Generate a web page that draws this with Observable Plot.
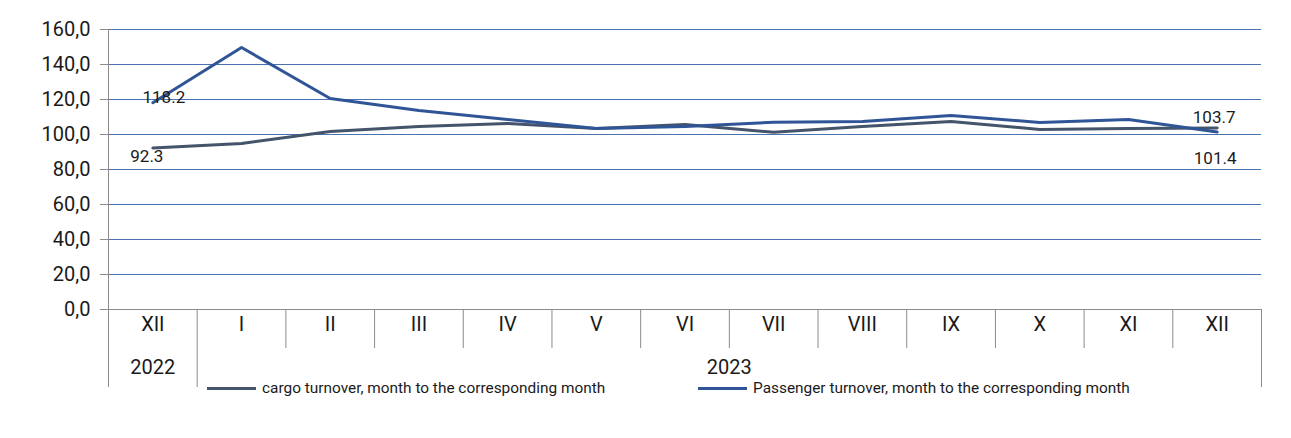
<!DOCTYPE html>
<html>
<head>
<meta charset="utf-8">
<script src="https://cdn.jsdelivr.net/npm/d3@7"></script>
<script src="https://cdn.jsdelivr.net/npm/@observablehq/plot@0.6"></script>
<style>
  html, body { margin: 0; padding: 0; background: #fff; }
  #wrap { position: relative; width: 1291px; height: 438px; font-family: Roboto, sans-serif; }
  .leg { position: absolute; display: flex; align-items: center; font-size: 15.4px; color: #1a1a1a; white-space: nowrap; }
  .leg .sw { width: 49px; height: 3px; margin-right: 6px; }
</style>
</head>
<body>
<div id="wrap"></div>
<script>
const months = ["XII","I","II","III","IV","V","VI","VII","VIII","IX","X","XI","XII"];
const years = ["2022","2023"];
const yearStart = [0, 1];
const yearEnd = [0, 12];
const cargo = [92.3, 94.9, 101.7, 104.6, 106.3, 103.4, 105.7, 101.3, 104.6, 107.4, 102.9, 103.4, 103.7];
const passenger = [118.2, 149.7, 120.6, 113.7, 108.6, 103.4, 104.6, 107.0, 107.4, 110.9, 106.9, 108.6, 101.4];
const yTicks = [0, 20, 40, 60, 80, 100, 120, 140, 160];
const seriesNames = ["cargo turnover, month to the corresponding month", "Passenger turnover, month to the corresponding month"];
const colors = ["#44546a", "#2f5597"];

const idx = months.map((_, i) => i);
const cargoData = idx.map(i => ({i, v: cargo[i]}));
const passData = idx.map(i => ({i, v: passenger[i]}));
const inner = d3.range(1, months.length - 1).map(i => i + 0.5);
const outer = [0.5, months.length - 0.5];
const groups = years.map((y, k) => ({label: y, x: (yearStart[k] + yearEnd[k]) / 2}));
const last = months.length - 1;

const gray = "#8c8c8c";
const font = "Roboto, sans-serif";

const chart = Plot.plot({
  width: 1291,
  height: 438,
  marginLeft: 108,
  marginRight: 30,
  marginTop: 29,
  marginBottom: 129,
  style: {fontFamily: font, color: "#1a1a1a", background: "#fff"},
  x: {type: "linear", domain: [-0.5, months.length - 0.5], axis: null},
  y: {domain: [0, 160], axis: null},
  marks: [
    Plot.gridY(yTicks.filter(t => t > 0), {stroke: "#4a72b0", strokeOpacity: 1, strokeWidth: 1}),
    Plot.ruleY([0], {stroke: gray, strokeWidth: 1}),
    Plot.axisY({ticks: yTicks, label: null, tickFormat: d => d.toFixed(1).replace(".", ","), tickSize: 8, tickPadding: 10, fontSize: 20, stroke: gray, fill: "#1a1a1a"}),
    Plot.ruleX([-0.5], {stroke: gray, strokeWidth: 1, insetBottom: -78}),
    Plot.ruleX(inner, {stroke: gray, strokeWidth: 1, insetTop: 280, insetBottom: -39}),
    Plot.ruleX(outer, {stroke: gray, strokeWidth: 1, insetTop: 280, insetBottom: -78}),
    Plot.text(months, {x: (d, i) => i, text: d => d, frameAnchor: "bottom", dy: 21, fontSize: 20, fill: "#1a1a1a"}),
    Plot.text(groups, {x: "x", text: "label", frameAnchor: "bottom", dy: 64, fontSize: 20, fill: "#1a1a1a"}),
    Plot.line(cargoData, {x: "i", y: "v", stroke: colors[0], strokeWidth: 3}),
    Plot.line(passData, {x: "i", y: "v", stroke: colors[1], strokeWidth: 3}),
    Plot.text([passData[0]], {x: "i", y: "v", text: d => d.v.toFixed(1), dx: 11, dy: -5, fontSize: 17, fill: "#1a1a1a"}),
    Plot.text([cargoData[0]], {x: "i", y: "v", text: d => d.v.toFixed(1), dx: -6, dy: 9, fontSize: 17, fill: "#1a1a1a"}),
    Plot.text([cargoData[last]], {x: "i", y: "v", text: d => d.v.toFixed(1), dx: -3, dy: -10, fontSize: 17, fill: "#1a1a1a"}),
    Plot.text([passData[last]], {x: "i", y: "v", text: d => d.v.toFixed(1), dx: -2, dy: 26, fontSize: 17, fill: "#1a1a1a"})
  ]
});
const wrap = document.getElementById("wrap");
wrap.appendChild(chart);

const legPos = [{left: 207, top: 380}, {left: 698, top: 380}];
seriesNames.forEach((name, k) => {
  const d = document.createElement("div");
  d.className = "leg";
  d.style.left = legPos[k].left + "px";
  d.style.top = legPos[k].top + "px";
  d.style.height = "16px";
  const sw = document.createElement("span");
  sw.className = "sw";
  sw.style.background = colors[k];
  const t = document.createElement("span");
  t.textContent = name;
  d.appendChild(sw);
  d.appendChild(t);
  wrap.appendChild(d);
});
</script>
</body>
</html>
